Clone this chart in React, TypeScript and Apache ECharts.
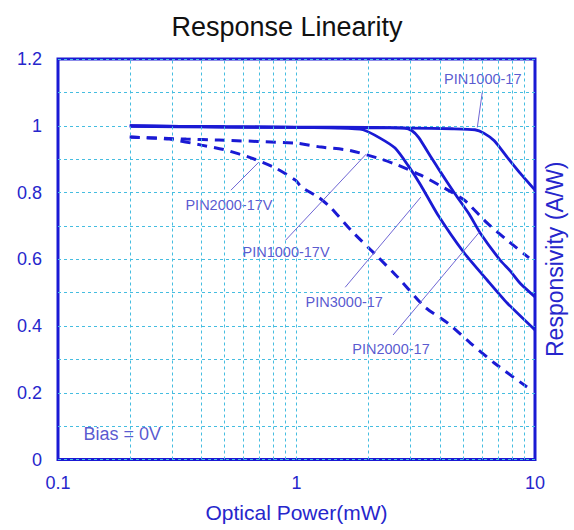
import React, { useEffect, useRef } from "react";
import * as echarts from "echarts";

// Curves: [optical power (mW), responsivity (A/W)]
const pin1000_17: [number, number][] = [
  [0.2, 0.998], [0.5, 0.996], [1, 0.995], [2, 0.994], [3.01, 0.993], [4.5, 0.991],
  [5.6, 0.988], [6.1, 0.978], [6.75, 0.955], [7.64, 0.906], [8.66, 0.858], [10, 0.807],
];
const pin2000_17: [number, number][] = [
  [0.2, 1.0], [0.5, 0.997], [1, 0.996], [2, 0.995], [2.84, 0.993], [3.05, 0.985],
  [3.25, 0.965], [3.65, 0.908], [4.02, 0.861], [4.6, 0.798], [5.3, 0.735],
  [5.9, 0.678], [7.15, 0.597], [7.87, 0.565], [8.66, 0.528], [10, 0.487],
];
const pin3000_17: [number, number][] = [
  [0.2, 1.0], [0.5, 0.997], [1, 0.995], [1.5, 0.993], [1.9, 0.988], [2.24, 0.963],
  [2.59, 0.933], [2.93, 0.882], [3.32, 0.822], [3.9, 0.735], [5.06, 0.618],
  [6.31, 0.537], [7.64, 0.469], [10, 0.388],
];
const pin1000_17V: [number, number][] = [
  [0.2, 0.966], [0.345, 0.96], [0.473, 0.957], [0.99, 0.948], [1.27, 0.936],
  [1.65, 0.927], [2.2, 0.903], [2.66, 0.882], [3.32, 0.852], [4.18, 0.813],
  [5.06, 0.777], [6.31, 0.708], [7.64, 0.657], [9.44, 0.604],
];
const pin2000_17V: [number, number][] = [
  [0.2, 0.966], [0.293, 0.96], [0.4, 0.942], [0.506, 0.927], [0.649, 0.903],
  [0.818, 0.873], [0.99, 0.837], [1.05, 0.816], [1.235, 0.786], [1.4, 0.753],
  [1.69, 0.687], [2.2, 0.606], [2.66, 0.546], [3.45, 0.457], [4.3, 0.409],
  [5.36, 0.349], [6.75, 0.289], [9.26, 0.217],
];

const minorXGrid: number[] = [0.2, 0.3, 0.4, 0.5, 0.6, 0.7, 0.8, 0.9, 1, 2, 3, 4, 5, 6, 7, 8, 9];

const annotationTexts: string[] = ["PIN1000-17", "PIN2000-17V", "PIN1000-17V", "PIN3000-17", "PIN2000-17", "Bias = 0V"];
const annotationAt: [number, number][] = [
  [6.04, 1.139], [0.521, 0.762], [0.904, 0.621], [1.585, 0.472], [2.49, 0.331], [0.186, 0.076],
];
const pointerFrom: [number, number][] = [
  [6.01, 1.1], [0.531, 0.807], [0.9, 0.657], [1.6, 0.516], [2.54, 0.373],
];
const pointerTo: [number, number][] = [
  [5.73, 0.995], [0.695, 0.891], [1.96, 0.915], [3.32, 0.786], [5.84, 0.681],
];

const BLUE = "#1a1ad4";
const LABEL = "#2626cc";
const GRID = "#45bde0";
const FONT = "'Liberation Sans', Arial, sans-serif";

export default function App() {
  const ref = useRef<HTMLDivElement>(null);
  useEffect(() => {
    if (!ref.current) return;
    const chart = echarts.init(ref.current, undefined, { renderer: "svg" });
    const curve = (name: string, data: [number, number][], dashed: boolean) => ({
      name,
      type: "line",
      data,
      showSymbol: false,
      smooth: 0.2,
      z: 3,
      lineStyle: dashed
        ? { color: BLUE, width: 3, type: [10, 7] }
        : { color: BLUE, width: 2.8 },
    });
    chart.setOption({
      animation: false,
      backgroundColor: "#ffffff",
      textStyle: { fontFamily: FONT },
      title: {
        text: "Response Linearity",
        left: "center",
        top: 8,
        textStyle: { fontSize: 27, fontWeight: "normal", color: "#111", fontFamily: FONT },
      },
      grid: {
        left: 58,
        right: 36,
        top: 59,
        bottom: 70.5,
        show: true,
        borderColor: BLUE,
        borderWidth: 3,
        backgroundColor: "transparent",
      },
      xAxis: {
        type: "log",
        logBase: 10,
        min: 0.1,
        max: 10,
        name: "Optical Power(mW)",
        nameLocation: "middle",
        nameGap: 42,
        nameTextStyle: { fontSize: 21, color: LABEL, fontFamily: FONT },
        axisLine: { show: false },
        axisTick: { show: false },
        splitLine: { show: false },
        axisLabel: {
          fontSize: 18,
          color: LABEL,
          margin: 14,
          formatter: (v: number) => String(Number(v.toPrecision(3))),
        },
      },
      yAxis: [
        {
          type: "value",
          min: 0,
          max: 1.2,
          interval: 0.2,
          axisLine: { show: false },
          axisTick: { show: false },
          axisLabel: {
            fontSize: 18,
            color: LABEL,
            margin: 16,
            formatter: (v: number) => String(Number(v.toFixed(1))),
          },
          splitLine: { show: true, lineStyle: { color: GRID, type: [3, 3], width: 1 } },
          minorTick: { show: false, splitNumber: 2 },
          minorSplitLine: { show: true, lineStyle: { color: GRID, type: [3, 3], width: 1 } },
        },
        {
          type: "value",
          min: 0,
          max: 1.2,
          position: "right",
          name: "Responsivity (A/W)",
          nameLocation: "middle",
          nameGap: 8,
          nameRotate: 90,
          nameTextStyle: { fontSize: 23, color: LABEL, fontFamily: FONT },
          axisLine: { show: false },
          axisTick: { show: false },
          axisLabel: { show: false },
          splitLine: { show: false },
        },
      ],
      series: [
        {
          type: "line",
          data: [],
          z: 1,
          silent: true,
          markLine: {
            silent: true,
            symbol: "none",
            label: { show: false },
            lineStyle: { color: GRID, type: [3, 3], width: 1 },
            data: minorXGrid.map((x) => ({ xAxis: x })),
          },
        },
        curve("PIN1000-17", pin1000_17, false),
        curve("PIN2000-17", pin2000_17, false),
        curve("PIN3000-17", pin3000_17, false),
        curve("PIN1000-17V", pin1000_17V, true),
        curve("PIN2000-17V", pin2000_17V, true),
        {
          type: "scatter",
          z: 4,
          symbolSize: 0,
          silent: true,
          data: annotationTexts.map((t, i) => ({
            name: t,
            value: annotationAt[i],
            label: i === annotationTexts.length - 1 ? { fontSize: 18 } : undefined,
          })),
          label: {
            show: true,
            position: "inside",
            formatter: "{b}",
            color: "#2e2ec4",
            fontSize: 14.5,
            fontFamily: FONT,
          },
          markLine: {
            silent: true,
            symbol: "none",
            label: { show: false },
            lineStyle: { color: "#6f66d4", type: "solid", width: 1 },
            data: pointerFrom.map((f, i) => [{ coord: f }, { coord: pointerTo[i] }]),
          },
        },
      ],
    });
    return () => chart.dispose();
  }, []);
  return (
    <div
      ref={ref}
      style={{ position: "fixed", left: 0, top: 0, width: 574, height: 530, background: "#fff" }}
    />
  );
}
